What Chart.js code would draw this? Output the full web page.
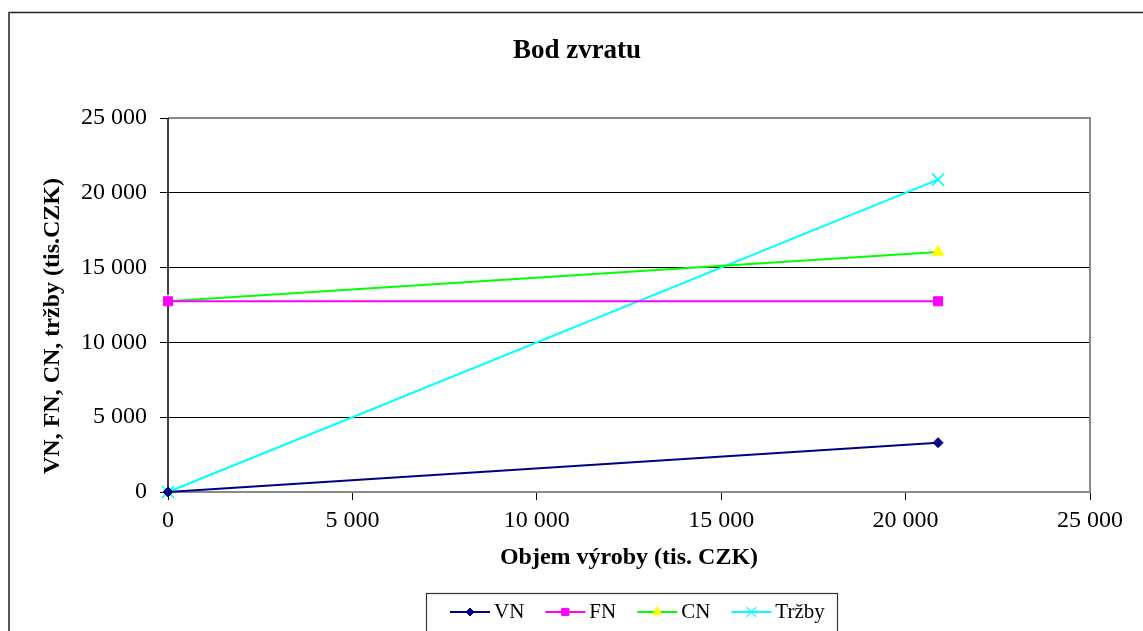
<!DOCTYPE html>
<html>
<head>
<meta charset="utf-8">
<script src="https://cdn.jsdelivr.net/npm/chart.js@4.4.1/dist/chart.umd.min.js"></script>
<style>
  html, body { margin: 0; padding: 0; background: #fff; }
  #wrap { width: 1143px; height: 631px; position: relative; }
</style>
</head>
<body>
<div id="wrap"><canvas id="c" width="1143" height="631"></canvas></div>
<script>
const chartTitle = 'Bod zvratu';
const xTitle = 'Objem výroby (tis. CZK)';
const yTitle = 'VN, FN, CN, tržby (tis.CZK)';
const xValues = [0, 20880];
const vnValues = [0, 3300];
const fnValues = [12750, 12750];
const cnValues = [12750, 16050];
const trzbyValues = [0, 20880];
const seriesNames = ['VN', 'FN', 'CN', 'Tržby'];
const axisMin = 0, axisMax = 25000, axisStep = 5000;

const FONT = "'Liberation Serif', 'Times New Roman', serif";
const fmt = v => String(v).replace(/\B(?=(\d{3})+(?!\d))/g, ' ');
const pts = arr => xValues.map((x, i) => ({x: x, y: arr[i]}));

const styles = [
  {color: '#000080', fill: '#000080', pointStyle: 'rectRot', radius: 5},
  {color: '#FF00FF', fill: '#FF00FF', pointStyle: 'rect', radius: 6.4},
  {color: '#00FF00', fill: '#FFFF00', pointStyle: 'triangle', radius: 6.5, pointBorderColor: '#FFFF00'},
  {color: '#00FFFF', fill: 'rgba(0,0,0,0)', pointStyle: 'crossRot', radius: 8.5}
];
const seriesData = [vnValues, fnValues, cnValues, trzbyValues];

const datasets = seriesNames.map((name, i) => ({
  label: name,
  data: pts(seriesData[i]),
  borderColor: styles[i].color,
  backgroundColor: styles[i].fill,
  borderWidth: 2,
  pointStyle: styles[i].pointStyle,
  pointRadius: styles[i].radius,
  pointBackgroundColor: styles[i].fill,
  pointBorderColor: styles[i].pointBorderColor || styles[i].color,
  pointBorderWidth: styles[i].pointStyle === 'crossRot' ? 1.6 : 1,
  tension: 0,
  clip: false
}));

const framePlugin = {
  id: 'frame',
  beforeDraw(chart) {
    const ctx = chart.ctx;
    ctx.save();
    ctx.fillStyle = '#fff';
    ctx.fillRect(0, 0, chart.width, chart.height);
    // outer frame
    ctx.strokeStyle = '#222';
    ctx.lineWidth = 1.5;
    ctx.beginPath(); ctx.moveTo(8, 12.5); ctx.lineTo(chart.width, 12.5); ctx.stroke();
    ctx.strokeStyle = '#555';
    ctx.lineWidth = 2;
    ctx.beginPath(); ctx.moveTo(9, 12); ctx.lineTo(9, chart.height); ctx.stroke();
    // chart title
    ctx.fillStyle = '#000';
    ctx.font = "bold 27px " + FONT;
    ctx.textAlign = 'center';
    ctx.textBaseline = 'middle';
    ctx.fillText(chartTitle, 577, 51);
    // y axis title
    ctx.font = "bold 24px " + FONT;
    ctx.translate(53, 326);
    ctx.rotate(-Math.PI / 2);
    ctx.fillText(yTitle, 0, 0);
    ctx.restore();
  },
  beforeDatasetsDraw(chart) {
    const ctx = chart.ctx;
    const a = chart.chartArea;
    ctx.save();
    ctx.strokeStyle = '#8a8a8a';
    ctx.lineWidth = 2;
    ctx.beginPath();
    ctx.moveTo(a.left, a.top);
    ctx.lineTo(a.right, a.top);
    ctx.lineTo(a.right, a.bottom);
    ctx.lineTo(a.left, a.bottom);
    ctx.stroke();
    ctx.strokeStyle = '#000';
    ctx.lineWidth = 1.5;
    ctx.beginPath(); ctx.moveTo(a.left, a.top); ctx.lineTo(a.left, a.bottom); ctx.stroke();
    ctx.restore();
  },
  afterDraw(chart) {
    const ctx = chart.ctx;
    ctx.save();
    // legend box
    const bx = 426, by = 593, bw = 411;
    ctx.strokeStyle = '#333';
    ctx.lineWidth = 1.2;
    ctx.strokeRect(bx + 0.5, by + 0.5, bw, 60);
    ctx.font = "21px " + FONT;
    ctx.textBaseline = 'middle';
    ctx.fillStyle = '#000';
    let x = 450;
    const cy = 612;
    seriesNames.forEach((name, i) => {
      const s = styles[i];
      ctx.strokeStyle = s.color;
      ctx.lineWidth = 2;
      ctx.beginPath(); ctx.moveTo(x, cy); ctx.lineTo(x + 40, cy); ctx.stroke();
      ctx.fillStyle = s.fill;
      ctx.strokeStyle = s.pointBorderColor || s.color;
      ctx.lineWidth = s.pointStyle === 'crossRot' ? 1.2 : 1;
      Chart.helpers.drawPoint(ctx, {pointStyle: s.pointStyle, radius: s.radius * 0.8, rotation: 0, borderWidth: 1}, x + 20, cy);
      ctx.fillStyle = '#000';
      ctx.fillText(name, x + 44, cy);
      x += 44 + ctx.measureText(name).width + 21;
    });
    ctx.restore();
  }
};

new Chart(document.getElementById('c'), {
  type: 'line',
  data: { datasets: datasets },
  plugins: [framePlugin],
  options: {
    responsive: false,
    animation: false,
    devicePixelRatio: 1,
    layout: { padding: { left: 0, right: 53, top: 118, bottom: 0 } },
    plugins: {
      legend: { display: false },
      tooltip: { enabled: false },
      title: { display: false }
    },
    scales: {
      x: {
        type: 'linear',
        min: axisMin, max: axisMax,
        afterFit(s) { s.height = 139; },
        ticks: {
          stepSize: axisStep,
          color: '#000',
          padding: 6,
          maxRotation: 0,
          font: { family: FONT, size: 24 },
          callback: v => fmt(v)
        },
        grid: { drawOnChartArea: false, drawTicks: true, tickLength: 8, color: '#000', lineWidth: 1 },
        border: { display: false },
        title: {
          display: true,
          text: xTitle,
          color: '#000',
          font: { family: FONT, size: 24, weight: 'bold', lineHeight: 1.2 },
          padding: { top: 59, bottom: 59 }
        }
      },
      y: {
        type: 'linear',
        min: axisMin, max: axisMax,
        afterFit(s) { s.width = 168; },
        ticks: {
          stepSize: axisStep,
          color: '#000',
          padding: 13,
          font: { family: FONT, size: 24 },
          callback: v => fmt(v)
        },
        grid: {
          drawTicks: true,
          tickLength: 8,
          lineWidth: 1,
          color: c => (c.tick && (c.tick.value === axisMax || c.tick.value === axisMin)) ? 'rgba(0,0,0,0)' : '#000',
          tickColor: '#000'
        },
        border: { display: false },
        title: { display: false }
      }
    }
  }
});
</script>
</body>
</html>
